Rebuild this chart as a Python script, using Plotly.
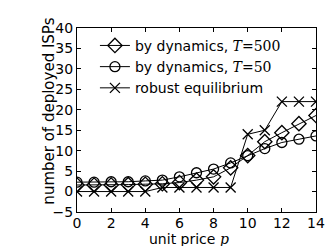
import plotly.graph_objects as go

price = list(range(15))
dyn_T500 = [1.6, 1.6, 1.6, 1.7, 1.8, 1.9, 2.2, 2.8, 3.6, 5.8, 8.8, 12.2, 14.4, 16.6, 18.6]
dyn_T50 = [2.3, 2.3, 2.4, 2.4, 2.6, 2.8, 3.6, 4.6, 5.5, 7.0, 8.8, 10.5, 12.0, 12.8, 13.6]
robust = [0, 0, 0, 0, 0, 1, 1, 1, 1, 1, 14, 15, 22, 22, 22]

serif = "font-family:'DejaVu Serif'"
names = [
    f"by dynamics, <span style=\"{serif}\"><i>T</i>=500</span>",
    f"by dynamics, <span style=\"{serif}\"><i>T</i>=50</span>",
    "robust equilibrium",
]
symbols = ["diamond-open", "circle-open", "x-thin-open"]
sizes = [11, 10, 10]
series = [dyn_T500, dyn_T50, robust]

FONT = dict(family="DejaVu Sans", size=14, color="black")

fig = go.Figure()
for name, sym, sz, vals in zip(names, symbols, sizes, series):
    fig.add_trace(go.Scatter(
        x=price, y=vals, mode="lines+markers", name=name,
        line=dict(color="black", width=1),
        marker=dict(symbol=sym, size=sz, color="black",
                    line=dict(color="black", width=1.3)),
    ))

axis_common = dict(
    showline=True, linecolor="black", linewidth=1, mirror="ticks",
    ticks="inside", ticklen=4, tickcolor="black", tickwidth=1,
    showgrid=False, zeroline=False, tickfont=FONT,
)
fig.update_xaxes(range=[0, 14], dtick=2, tick0=0, ticklabelstandoff=-2, **axis_common)
fig.update_yaxes(range=[-5, 40], dtick=5, tick0=-5, **axis_common)

fig.add_annotation(text="number of deployed ISPs", xref="paper", yref="paper",
                   x=-0.116, y=0.547, xanchor="center", yanchor="middle",
                   textangle=-90, showarrow=False,
                   font=dict(family="DejaVu Sans", size=15, color="black"))
fig.add_annotation(text="unit price <i style=\"font-family:'DejaVu Serif'\">p</i>",
                   xref="paper", yref="paper", x=0.469, y=-0.145,
                   xanchor="center", yanchor="middle", showarrow=False, font=FONT)

fig.update_layout(
    width=336, height=246,
    margin=dict(l=69, r=28, t=12, b=42),
    paper_bgcolor="white", plot_bgcolor="white",
    font=FONT,
    showlegend=True,
    legend=dict(x=0.075, y=0.99, xanchor="left", yanchor="top",
                bgcolor="rgba(0,0,0,0)", borderwidth=0,
                font=FONT, tracegroupgap=0, itemwidth=30),
)
fig.write_html("out.html")
